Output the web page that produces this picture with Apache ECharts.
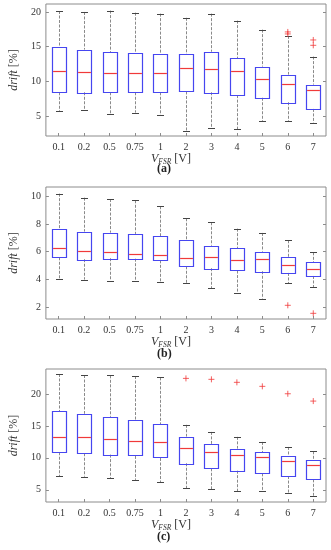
<!DOCTYPE html>
<html>
<head>
<meta charset="utf-8">
<script src="https://cdn.jsdelivr.net/npm/echarts@6/dist/echarts.min.js"></script>
<style>html,body{margin:0;padding:0;background:#fff}#c{width:331px;height:550px}</style>
</head>
<body>
<div id="c"></div>
<script>
const categories = ['0.1','0.2','0.5','0.75','1','2','3','4','5','6','7'];

// [low whisker, Q1, median, Q3, high whisker]
const boxA = [
  [5.67, 8.41, 11.44, 14.90, 20.14],
  [5.87, 8.41, 11.35, 14.57, 20.00],
  [5.29, 8.41, 11.15, 14.23, 20.20],
  [5.48, 8.41, 11.20, 14.04, 19.90],
  [5.14, 8.41, 11.25, 13.90, 19.76],
  [2.88, 8.53, 11.88, 13.90, 19.16],
  [3.22, 8.41, 11.83, 14.26, 19.76],
  [3.05, 8.00, 11.50, 13.30, 18.75],
  [4.23, 7.62, 10.32, 12.12, 17.45],
  [4.23, 6.97, 9.57, 10.96, 16.55],
  [4.02, 6.01, 8.80, 9.52, 13.56]
];
const outA = [[9, 17.12], [9, 16.83], [10, 15.96], [10, 15.19]];

const boxB = [
  [4.05, 5.59, 6.27, 7.61, 10.19],
  [3.98, 5.45, 6.05, 7.45, 9.90],
  [3.90, 5.52, 5.98, 7.37, 9.80],
  [3.88, 5.49, 5.81, 7.28, 9.71],
  [3.81, 5.37, 5.73, 7.13, 9.28],
  [3.71, 4.94, 5.52, 6.82, 8.41],
  [3.37, 4.80, 5.64, 6.43, 8.12],
  [3.04, 4.63, 5.42, 6.24, 7.66],
  [2.60, 4.58, 5.47, 6.00, 7.35],
  [3.73, 4.46, 5.06, 5.59, 6.82],
  [3.42, 4.24, 4.75, 5.25, 5.95]
];
const outB = [[9, 2.12], [10, 1.54]];

const boxC = [
  [7.15, 10.88, 13.34, 17.27, 23.15],
  [7.05, 10.72, 13.24, 16.91, 22.99],
  [6.79, 10.51, 12.97, 16.43, 22.94],
  [6.55, 10.30, 12.71, 15.86, 22.83],
  [6.21, 9.98, 12.45, 15.23, 22.62],
  [5.26, 9.15, 11.61, 13.34, 15.18],
  [5.05, 8.36, 10.98, 12.13, 14.07],
  [4.74, 7.99, 10.51, 11.45, 13.29],
  [4.74, 7.57, 10.09, 10.93, 12.50],
  [4.43, 7.15, 9.51, 10.35, 11.71],
  [4.06, 6.63, 8.83, 9.67, 11.03]
];
const outC = [[5, 22.46], [6, 22.31], [7, 21.84], [8, 21.21], [9, 20.05], [10, 18.90]];

const ticksA = [5, 10, 15, 20];
const ticksB = [2, 4, 6, 8, 10];
const ticksC = [5, 10, 15, 20];
const rangeA = [2.1, 21.15];
const rangeB = [1.13, 10.67];
const rangeC = [3.08, 23.93];
const panelLabels = ['(a)', '(b)', '(c)'];

const FONT = 'Liberation Serif';
const BLUE = '#4646f0', RED = '#f03a3a', GRAY = '#8a8a8a', FRAME = '#8c8c8c';

const grids = [
  {left: 28, top: 4, width: 298, height: 132},
  {left: 28, top: 187, width: 298, height: 132},
  {left: 28, top: 369, width: 298, height: 133}
].map(g => Object.assign(g, {show: true, borderColor: FRAME, borderWidth: 1, backgroundColor: 'transparent'}));

const boxes = [boxA, boxB, boxC];
const outs = [outA, outB, outC];
const ticks = [ticksA, ticksB, ticksC];
const ranges = [rangeA, rangeB, rangeC];

const xAxes = [], yAxes = [], series = [];
const r = v => Math.round(v) + 0.5;

function renderBox(params, api) {
  const x = api.value(0);
  const p = i => api.coord([x, api.value(i)]);
  const lo = p(1), q1 = p(2), md = p(3), q3 = p(4), hi = p(5);
  const cx = r(lo[0]);
  const hw = 7, cw = 3.5;
  const wl = {stroke: GRAY, lineWidth: 1, lineDash: [3, 1.5]};
  return {type: 'group', children: [
    {type: 'line', shape: {x1: cx, y1: hi[1], x2: cx, y2: q3[1]}, style: wl},
    {type: 'line', shape: {x1: cx, y1: q1[1], x2: cx, y2: lo[1]}, style: wl},
    {type: 'line', shape: {x1: cx - cw, y1: r(hi[1]), x2: cx + cw, y2: r(hi[1])}, style: {stroke: '#444', lineWidth: 1}},
    {type: 'line', shape: {x1: cx - cw, y1: r(lo[1]), x2: cx + cw, y2: r(lo[1])}, style: {stroke: '#444', lineWidth: 1}},
    {type: 'rect', shape: {x: cx - hw, y: r(q3[1]), width: 2 * hw, height: Math.round(q1[1] - q3[1])}, style: {fill: 'none', stroke: BLUE, lineWidth: 1.2}},
    {type: 'line', shape: {x1: cx - hw + 0.6, y1: r(md[1]), x2: cx + hw - 0.6, y2: r(md[1])}, style: {stroke: RED, lineWidth: 1.2}}
  ]};
}

for (let k = 0; k < 3; k++) {
  xAxes.push({
    type: 'category', gridIndex: k, data: categories, boundaryGap: true,
    axisLine: {show: false},
    axisTick: {show: true, inside: true, alignWithLabel: true, length: 3, lineStyle: {color: FRAME}},
    axisLabel: {fontFamily: FONT, fontSize: 10, color: '#333', margin: 6, interval: 0},
    name: '{i|V}{s|FSR}{n| [V]}', nameLocation: 'middle', nameGap: 13,
    nameTextStyle: {
      padding: [0, 30, 0, 0],
      rich: {
        i: {fontFamily: FONT, fontStyle: 'italic', fontSize: 12, color: '#333'},
        s: {fontFamily: FONT, fontStyle: 'italic', fontSize: 7.5, color: '#333', padding: [6, 0, 0, 0]},
        n: {fontFamily: FONT, fontSize: 12, color: '#333'}
      }
    }
  });
  yAxes.push({
    type: 'value', gridIndex: k, min: ranges[k][0], max: ranges[k][1],
    axisLine: {show: false}, splitLine: {show: false},
    axisTick: {show: true, inside: true, length: 3, lineStyle: {color: FRAME}, customValues: ticks[k]},
    axisLabel: {fontFamily: FONT, fontSize: 10, color: '#333', margin: 5, customValues: ticks[k]},
    name: '{i|drift}{n| [%]}', nameLocation: 'middle', nameGap: 17, nameRotate: 90,
    nameTextStyle: {
      rich: {
        i: {fontFamily: FONT, fontStyle: 'italic', fontSize: 12, color: '#333'},
        n: {fontFamily: FONT, fontSize: 12, color: '#333'}
      }
    }
  });
  yAxes.push({
    type: 'value', gridIndex: k, position: 'right', min: ranges[k][0], max: ranges[k][1],
    axisLine: {show: false}, splitLine: {show: false}, axisLabel: {show: false},
    axisTick: {show: true, inside: true, length: 3, lineStyle: {color: FRAME}, customValues: ticks[k]}
  });
  series.push({
    type: 'custom', xAxisIndex: k, yAxisIndex: 2 * k,
    renderItem: renderBox,
    encode: {x: 0, y: [1, 2, 3, 4, 5]},
    data: boxes[k].map((b, i) => [i].concat(b)),
    silent: true, animation: false
  });
  series.push({
    type: 'scatter', xAxisIndex: k, yAxisIndex: 2 * k,
    symbol: 'path://M0,5L10,5M5,0L5,10', symbolSize: 6,
    itemStyle: {color: 'none', borderColor: RED, borderWidth: 1},
    data: outs[k], silent: true, animation: false
  });
}

const labelY = [170, 355, 538];
const graphic = panelLabels.map((t, k) => ({
  type: 'text', left: 157, top: labelY[k] - 7,
  style: {text: t, font: 'bold 12px "Liberation Serif"', fill: '#222'}
}));

const chart = echarts.init(document.getElementById('c'), null, {renderer: 'canvas'});
chart.setOption({
  animation: false,
  grid: grids, xAxis: xAxes, yAxis: yAxes, series: series, graphic: graphic
});
</script>
</body>
</html>
